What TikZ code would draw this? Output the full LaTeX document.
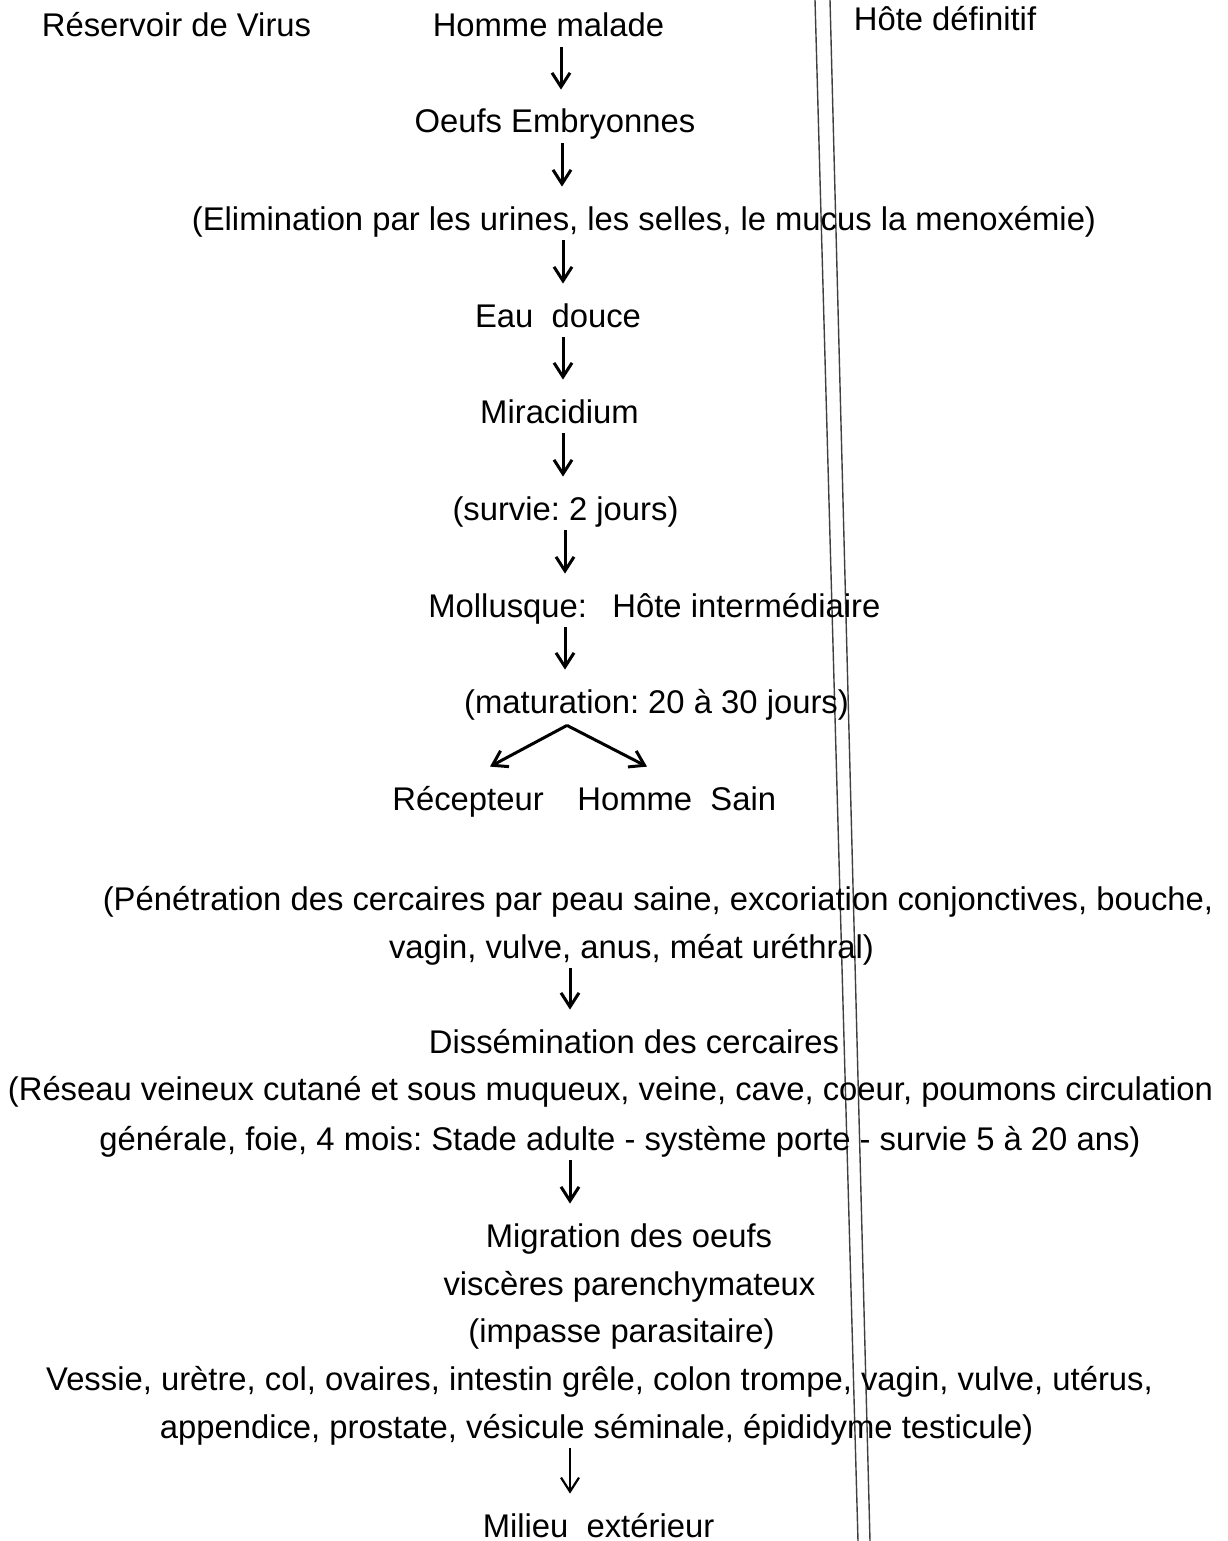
\documentclass[tikz,border=0pt]{standalone}
\usepackage{fontspec}
\setmainfont{Liberation Sans}
\usetikzlibrary{arrows.meta}
\frenchspacing
\begin{document}
\begin{tikzpicture}[x=0.5pt,y=-0.5pt,
  txt/.style={inner sep=0pt, text height=21.5pt, text depth=5pt, anchor=base,
    font=\fontsize{16.4}{19}\selectfont\frenchspacing},
  arr/.style={line width=1.5pt, -{Straight Barb[length=7pt,width=9pt,line width=1.5pt]}},
  arrthin/.style={line width=1.1pt, -{Straight Barb[length=7pt,width=9pt,line width=1.1pt]}},
  scanline/.style={draw=black!75, line width=0.7pt}]
\useasboundingbox (0,0) rectangle (1227,1541);
% scan fold lines
\draw[scanline] (815,0) -- (858,1541);
\draw[scanline] (830,0) -- (870,1541);
% arrow x positions
\coordinate (ax1) at (561,0);
\coordinate (ax2) at (562,0);
\coordinate (ax3) at (563,0);
\coordinate (ax4) at (565,0);
\coordinate (ax5) at (570,0);
\coordinate (apx) at (567,0);
\coordinate (tl) at (490,0);
\coordinate (tr) at (647,0);
% texts
\node[txt] (res) at (176.5,37) {Réservoir de Virus};
\node[txt] (hm) at (548.5,37) {Homme malade};
\node[txt] (hd) at (945,31) {Hôte définitif};
\node[txt] (oe) at (555,133) {Oeufs Embryonnes};
\node[txt] (el) at (644,230) {(Elimination par les urines, les selles, le mucus la menoxémie)};
\node[txt] (ed) at (558,327) {Eau\ \ douce};
\node[txt] (mi) at (559.5,423) {Miracidium};
\node[txt] (su) at (565.5,520) {(survie: 2 jours)};
\node[txt, anchor=base west] (mo) at (428,617) {Mollusque:};
\node[txt, anchor=base west] (hi) at (612,617) {Hôte intermédiaire};
\node[txt] (ma) at (656.5,713) {(maturation: 20 à 30 jours)};
\node[txt, anchor=base west] (re) at (392,810) {Récepteur};
\node[txt, anchor=base west] (hs) at (577,810) {Homme\ \ Sain};
\node[txt] (pe) at (658,910) {(Pénétration des cercaires par peau saine, excoriation conjonctives, bouche,};
\node[txt] (va) at (631.5,958) {vagin, vulve, anus, méat uréthral)};
\node[txt] (di) at (634,1053) {Dissémination des cercaires};
\node[txt] (rs) at (610.5,1100) {(Réseau veineux cutané et sous muqueux, veine, cave, coeur, poumons circulation};
\node[txt] (ge) at (620,1150) {générale, foie, 4 mois: Stade adulte - système porte - survie 5 à 20 ans)};
\node[txt] (mg) at (629,1247) {Migration des oeufs};
\node[txt] (vi) at (629.5,1295) {viscères parenchymateux};
\node[txt] (im) at (621.5,1342) {(impasse parasitaire)};
\node[txt] (ve) at (599.5,1390) {Vessie, urètre, col, ovaires, intestin grêle, colon trompe, vagin, vulve, utérus,};
\node[txt] (ap) at (596.5,1438) {appendice, prostate, vésicule séminale, épididyme testicule)};
\node[txt] (mx) at (598.5,1537) {Milieu\ \ extérieur};
% arrows
\draw[arr] (hm.south -| ax1) -- (oe.north -| ax1);
\draw[arr] (oe.south -| ax2) -- (el.north -| ax2);
\draw[arr] (el.south -| ax3) -- (ed.north -| ax3);
\draw[arr] (ed.south -| ax3) -- (mi.north -| ax3);
\draw[arr] (mi.south -| ax3) -- (su.north -| ax3);
\draw[arr] (su.south -| ax4) -- (mo.north -| ax4);
\draw[arr] (mo.south -| ax4) -- (ma.north -| ax4);
\draw[arr] ([yshift=-1pt]ma.south -| apx) -- (re.north -| tl);
\draw[arr] ([yshift=-1pt]ma.south -| apx) -- (hs.north -| tr);
\draw[arr] (va.south -| ax5) -- (di.north -| ax5);
\draw[arr] (ge.south -| ax5) -- (mg.north -| ax5);
\draw[arrthin] (ap.south -| ax5) -- (mx.north -| ax5);
\end{tikzpicture}
\end{document}
